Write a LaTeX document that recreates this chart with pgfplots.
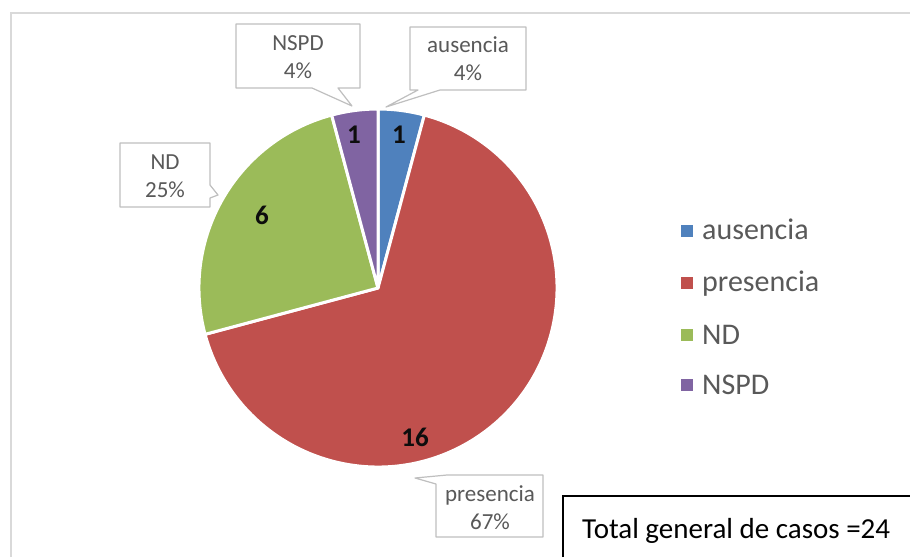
\documentclass[border=0pt]{standalone}
\usepackage{pgfplots}
\pgfplotsset{compat=1.18}
\usepackage{fontspec}
\setmainfont{Carlito}
\definecolor{cblue}{HTML}{4F81BD}
\definecolor{cred}{HTML}{C0504D}
\definecolor{cgreen}{HTML}{9BBB59}
\definecolor{cpurple}{HTML}{8064A2}
\definecolor{txtgray}{HTML}{595959}
\definecolor{boxgray}{HTML}{BFBFBF}
\definecolor{framegray}{HTML}{D9D9D9}
% counts: ausencia, presencia, ND, NSPD
\def\nA{1}\def\nB{16}\def\nC{6}\def\nD{1}
\pgfmathsetmacro\tot{\nA+\nB+\nC+\nD}
\pgfmathsetmacro\aA{90-360*\nA/\tot}
\pgfmathsetmacro\aB{\aA-360*\nB/\tot}
\pgfmathsetmacro\aC{\aB-360*\nC/\tot}
\pgfmathsetmacro\aD{\aC-360*\nD/\tot}
\def\R{179pt}
\begin{document}
\begin{tikzpicture}
\begin{axis}[width=910pt,height=557pt,scale only axis,
  xmin=0,xmax=910,ymin=0,ymax=557,y dir=reverse,hide axis,clip=false]
% outer frame
\draw[framegray,line width=2pt] (axis cs:11,557) -- (axis cs:11,13) -- (axis cs:910,13);
% pie
\filldraw[fill=cblue,draw=white,line width=3pt,line join=round] (axis cs:378,288) -- ++(90:\R) arc[start angle=90,end angle=\aA,radius=\R] -- cycle;
\filldraw[fill=cred,draw=white,line width=3pt,line join=round] (axis cs:378,288) -- ++(\aA:\R) arc[start angle=\aA,end angle=\aB,radius=\R] -- cycle;
\filldraw[fill=cgreen,draw=white,line width=3pt,line join=round] (axis cs:378,288) -- ++(\aB:\R) arc[start angle=\aB,end angle=\aC,radius=\R] -- cycle;
\filldraw[fill=cpurple,draw=white,line width=3pt,line join=round] (axis cs:378,288) -- ++(\aC:\R) arc[start angle=\aC,end angle=\aD,radius=\R] -- cycle;
% data labels
\node[font=\fontsize{27}{32}\selectfont\bfseries,text=black!95] at (axis cs:399,135) {\nA};
\node[font=\fontsize{27}{32}\selectfont\bfseries,text=black!95] at (axis cs:415,437) {\nB};
\node[font=\fontsize{27}{32}\selectfont\bfseries,text=black!95] at (axis cs:262,215) {\nC};
\node[font=\fontsize{27}{32}\selectfont\bfseries,text=black!95] at (axis cs:354,135) {\nD};
% callouts
\filldraw[fill=white,draw=boxgray,line width=1.2pt,line join=round] (axis cs:410,27) -- (axis cs:526,27) -- (axis cs:526,90) -- (axis cs:440,90) -- (axis cs:386,107) -- (axis cs:418,90) -- (axis cs:410,90) -- cycle;
\node[align=center,text=txtgray,font=\fontsize{23}{28}\selectfont] at (axis cs:468,59) {ausencia\\4\%};
\filldraw[fill=white,draw=boxgray,line width=1.2pt,line join=round] (axis cs:236,24) -- (axis cs:360,24) -- (axis cs:360,88) -- (axis cs:338,88) -- (axis cs:352,106) -- (axis cs:312,88) -- (axis cs:236,88) -- cycle;
\node[align=center,text=txtgray,font=\fontsize{23}{28}\selectfont] at (axis cs:298,57) {NSPD\\4\%};
\filldraw[fill=white,draw=boxgray,line width=1.2pt,line join=round] (axis cs:120,143) -- (axis cs:210,143) -- (axis cs:210,185) -- (axis cs:218,195) -- (axis cs:210,198) -- (axis cs:210,207) -- (axis cs:120,207) -- cycle;
\node[align=center,text=txtgray,font=\fontsize{23}{28}\selectfont] at (axis cs:165,176) {ND\\25\%};
\filldraw[fill=white,draw=boxgray,line width=1.2pt,line join=round] (axis cs:447,475) -- (axis cs:543,475) -- (axis cs:543,537) -- (axis cs:436,537) -- (axis cs:436,484) -- (axis cs:415,478) -- cycle;
\node[align=center,text=txtgray,font=\fontsize{23}{28}\selectfont] at (axis cs:490,508) {presencia\\67\%};
% legend
\addplot[only marks,mark=square*,mark size=5.5pt,color=cblue] coordinates {(687,231)};
\addplot[only marks,mark=square*,mark size=5.5pt,color=cred] coordinates {(687,283)};
\addplot[only marks,mark=square*,mark size=5.5pt,color=cgreen] coordinates {(687,335)};
\addplot[only marks,mark=square*,mark size=5.5pt,color=cpurple] coordinates {(687,385)};
\node[anchor=base west,inner sep=0pt,text=txtgray,font=\fontsize{30}{36}\selectfont] at (axis cs:702,239) {ausencia};
\node[anchor=base west,inner sep=0pt,text=txtgray,font=\fontsize{30}{36}\selectfont] at (axis cs:702,291) {presencia};
\node[anchor=base west,inner sep=0pt,text=txtgray,font=\fontsize{30}{36}\selectfont] at (axis cs:702,344) {ND};
\node[anchor=base west,inner sep=0pt,text=txtgray,font=\fontsize{30}{36}\selectfont] at (axis cs:702,394) {NSPD};
% total box
\draw[black,line width=1.3pt] (axis cs:563,557) -- (axis cs:563,496) -- (axis cs:910,496);
\node[anchor=base west,inner sep=0pt,text=black,font=\fontsize{29}{35}\selectfont] at (axis cs:582,538) {Total general de casos =24};
\end{axis}
\pgfresetboundingbox
\path[use as bounding box] (current axis.south west) rectangle (current axis.north east);
\end{tikzpicture}
\end{document}
